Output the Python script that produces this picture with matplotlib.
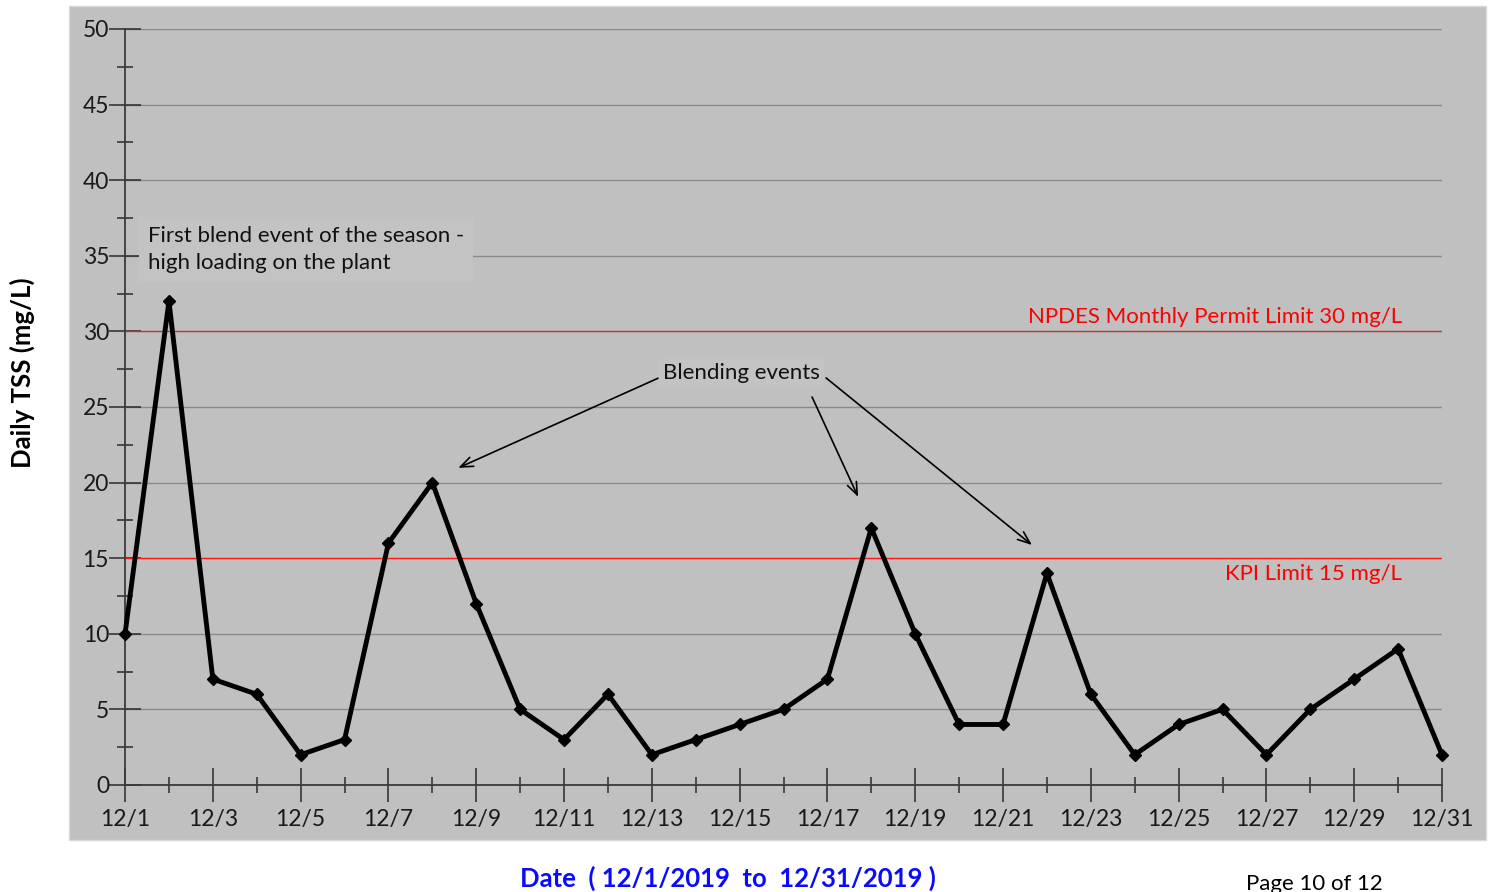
import numpy as np
import matplotlib.pyplot as plt
from matplotlib.patches import Rectangle
from matplotlib.ticker import MultipleLocator, FixedLocator

plt.rcParams["font.family"] = ["Lato", "DejaVu Sans"]

# daily TSS, December 2019
days = np.arange(1, 32)
tss = [10, 32, 7, 6, 2, 3, 16, 20, 12, 5, 3, 6, 2, 3, 4, 5, 7, 17, 10, 4,
       4, 14, 6, 2, 4, 5, 2, 5, 7, 9, 2]
tick_days = list(range(1, 32, 2))
tick_labels = [f"12/{d}" for d in tick_days]
npdes_limit = 30
kpi_limit = 15

fig = plt.figure(figsize=(14.94, 8.92), dpi=100)
fig.patch.set_facecolor("white")
fig.patches.append(Rectangle((0.0462, 0.0583), 0.9485, 0.935,
                             transform=fig.transFigure, facecolor="#c0c0c0",
                             edgecolor="#d8d8d8", lw=1, zorder=-1))

ax = fig.add_axes([0.0837, 0.1200, 0.8815, 0.8475])
ax.set_facecolor("none")
ax.set_xlim(1, 31)
ax.set_ylim(0, 50)
for s in ("top", "right"):
    ax.spines[s].set_visible(False)
for s in ("left", "bottom"):
    ax.spines[s].set_color("#3a3a3a")
    ax.spines[s].set_linewidth(1.3)

ax.yaxis.set_major_locator(MultipleLocator(5))
ax.yaxis.set_minor_locator(MultipleLocator(2.5))
ax.xaxis.set_major_locator(FixedLocator(tick_days))
ax.xaxis.set_minor_locator(FixedLocator(list(range(2, 31, 2))))
ax.set_xticklabels(tick_labels)
ax.tick_params(axis="x", which="major", direction="inout", length=24,
               width=1.1, color="#2a2a2a", pad=5, labelsize=16.5)
ax.tick_params(axis="x", which="minor", direction="inout", length=12,
               width=1.1, color="#2a2a2a")
ax.tick_params(axis="y", which="major", direction="inout", length=23,
               width=1.1, color="#2a2a2a", pad=0, labelsize=16.5)
ax.tick_params(axis="y", which="minor", direction="inout", length=11.5,
               width=1.1, color="#2a2a2a")
for lbl in ax.get_xticklabels() + ax.get_yticklabels():
    lbl.set_color("#1a1a1a")

ax.grid(axis="y", which="major", color="#8a8a8a", lw=1.0)
ax.set_axisbelow(True)

ax.axhline(npdes_limit, color="#ff1a1a", lw=0.9, zorder=2)
ax.axhline(kpi_limit, color="#ff1a1a", lw=0.9, zorder=2)
ax.text(30.09, 30.95, f"NPDES Monthly Permit Limit {npdes_limit} mg/L",
        color="#ff0000", fontsize=16, ha="right", va="center")
ax.text(30.09, 13.95, f"KPI Limit {kpi_limit} mg/L",
        color="#ff0000", fontsize=16, ha="right", va="center")

ax.plot(days, tss, color="black", lw=3.5, marker="D", markersize=6,
        zorder=4, clip_on=False)

ax.text(1.52, 35.4, "First blend event of the season -\nhigh loading on the plant",
        fontsize=16, ha="left", va="center", linespacing=1.45, color="#111111",
        bbox=dict(boxstyle="square,pad=0.4", fc="#c3c3c3", ec="none"))

ax.text(15.03, 27.25, "Blending events", fontsize=16, ha="center",
        va="center", color="#111111",
        bbox=dict(boxstyle="square,pad=0.2", fc="#c3c3c3", ec="none"))
arrows = [((13.14, 26.9), (8.59, 20.97)),
          ((16.65, 25.66), (17.70, 19.05)),
          ((16.97, 26.92), (21.66, 15.87))]
for start, end in arrows:
    ax.annotate("", xy=end, xytext=start,
                arrowprops=dict(arrowstyle="->,head_length=0.9,head_width=0.35",
                                color="black", lw=1.2, shrinkA=0, shrinkB=0))

fig.text(0.0147, 0.582, "Daily TSS (mg/L)", rotation=90, fontsize=18.5,
         fontweight="bold", ha="center", va="center", color="black")
fig.text(0.487, 0.0157, "Date  ( 12/1/2019  to  12/31/2019 )", fontsize=18.5,
         fontweight="bold", ha="center", va="center", color="#0a0aff")
fig.text(0.880, 0.009, "Page 10 of 12", fontsize=16, ha="center",
         va="center", color="black")

fig.savefig("out.png", dpi=100)
